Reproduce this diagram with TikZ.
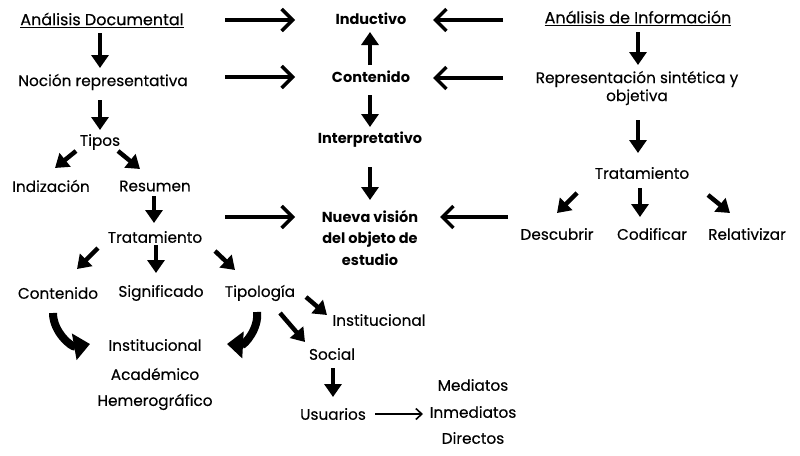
\documentclass[tikz,border=0pt]{standalone}
\usepackage{fontspec}
\setmainfont{Poppins}[FakeBold=0.3]
\newfontfamily\midfont{Poppins}
\usetikzlibrary{arrows.meta, calc}

\tikzset{
  txt/.style = {font=\fontsize{15.3}{18}\selectfont, inner sep=2pt, align=center},
  head/.style = {txt, font=\fontsize{16}{18}\selectfont},
  mid/.style = {txt, font=\midfont\bfseries\fontsize{14.5}{21.5}\selectfont},
  blk/.style = {line width=4.5pt, -{Triangle[width=17pt, length=13pt]}},
  fat/.style = {line width=8pt, -{Triangle[width=26pt, length=16pt]}},
  harrow/.style = {line width=3.5pt, -{Straight Barb[width=22pt, length=11pt]}},
}

\begin{document}
\begin{tikzpicture}[x=1pt, y=-1pt]
\useasboundingbox (0,0) rectangle (800,455);

\node[head] (ad) at (102,20) {\underline{Análisis Documental}};
\node[txt] (nr) at (103,82) {Noción representativa};
\node[txt] (tip) at (100,142) {Tipos};
\node[txt] (idz) at (51,186) {Indización};
\node[txt] (res) at (155,186) {Resumen};
\node[txt] (tr) at (155,237) {Tratamiento};
\node[txt] (con) at (58,293) {Contenido};
\node[txt] (sig) at (161,293) {Significado};
\node[txt] (tpl) at (260,293) {Tipología};
\node[txt] (inst) at (155,345) {Institucional};
\node[txt] (aca) at (155,374) {Académico};
\node[txt] (hem) at (155,402) {Hemerográfico};
\node[txt] (ins) at (379,320) {Institucional};
\node[txt] (soc) at (332,354) {Social};
\node[txt] (usu) at (333,414) {Usuarios};
\node[txt] (med) at (473,385) {Mediatos};
\node[txt] (inm) at (473,412) {Inmediatos};
\node[txt] (dir) at (473,438) {Directos};

\node[mid] (ind) at (371,19) {Inductivo};
\node[mid] (cen) at (371,77) {Contenido};
\node[mid] (int) at (370,140) {Interpretativo};
\node[mid] (nue) at (370,238) {Nueva visión\\del objeto de\\estudio};

\node[head] (ai) at (638,18) {\underline{Análisis de Información}};
\node[txt] (rep) at (637,88) {Representación sintética y\\objetiva};
\node[txt] (trr) at (642,173) {Tratamiento};
\node[txt] (des) at (557,234) {Descubrir};
\node[txt] (cod) at (652,234) {Codificar};
\node[txt] (rel) at (747,234) {Relativizar};

\coordinate (lft) at (225,217);
\coordinate (rgt) at (508,217);

% arrows into the middle column
\draw[harrow] ($(ad)+(123,0)$) -- ($(ind)+(-76,1)$);
\draw[harrow] ($(nr)+(122,-5)$) -- ($(cen)+(-76,0)$);
\draw[harrow] (lft) -- ($(nue)+(-75,-21)$);
\draw[harrow] ($(ai)+(-135,2)$) -- ($(ind)+(62,1)$);
\draw[harrow] ($(rep)+(-134,-10)$) -- ($(cen)+(62,1)$);
\draw[harrow] (rgt) -- ($(nue)+(70,-21)$);

\foreach \a/\p/\b/\q in {ad/{-2,13}/nr/{-3,-14}, nr/{-3,18}/tip/{0,-12},
    tip/{-24,9}/idz/{4,-18}, tip/{18,9}/res/{-15,-17}, res/{-1,10}/tr/{-1,-14},
    tr/{-57,11}/con/{19,-24}, tr/{1,8}/sig/{-5,-20}, tr/{60,14}/tpl/{-25,-23},
    tpl/{46,4}/ins/{-52,-5}, tpl/{20,20}/soc/{-27,-12}, soc/{1,14}/usu/{0,-17},
    cen/{-1,-12}/ind/{-1,13}, cen/{-1,18}/int/{0,-13}, int/{0,27}/nue/{0,-38},
    ai/{0,14}/rep/{1,-23}, rep/{1,32}/trr/{-4,-20}, trr/{-65,20}/des/{0,-21},
    trr/{-2,15}/cod/{-12,-17}, trr/{66,22}/rel/{-17,-21}}
  \draw[blk] ($(\a)+(\p)$) -- ($(\b)+(\q)$);

\draw[fat] ($(con)+(-5,20)$) to[bend right=50] ($(inst)+(-65,-1)$);
\draw[fat] ($(tpl)+(-3,19)$) to[bend left=50] ($(inst)+(72,-1)$);

\draw[line width=1.6pt, -{Straight Barb[width=11pt, length=6pt]}] ($(usu)+(42,0)$) -- ($(inm)+(-50,2)$);
\end{tikzpicture}
\end{document}
